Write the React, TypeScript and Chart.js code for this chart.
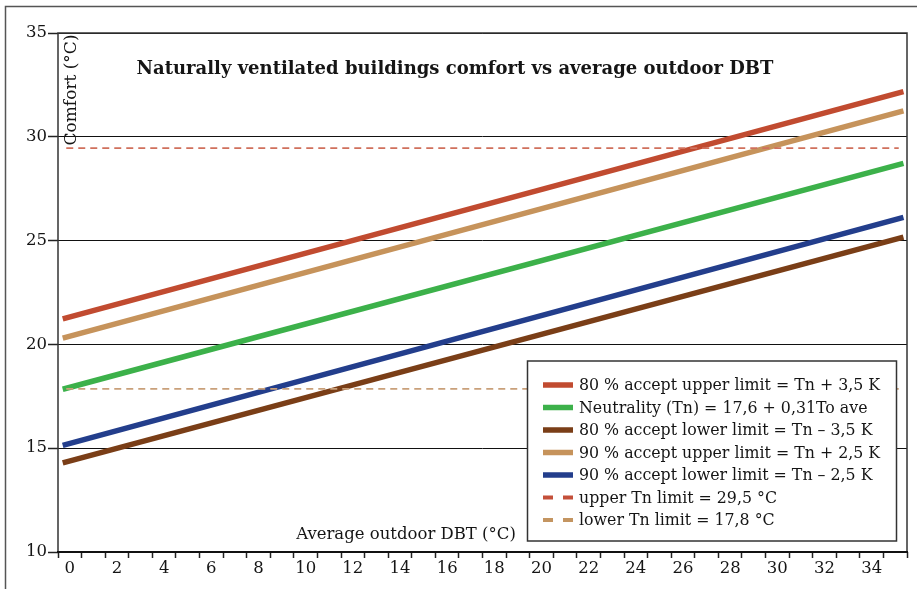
import React, { useEffect, useRef } from "react";
import { Chart, registerables } from "chart.js";

Chart.register(...registerables);

// ---- data ----
const lineX = [-0.3, 35.35];
const upper80 = [21.23, 32.18];
const neutrality = [17.84, 28.72];
const lower80 = [14.29, 25.17];
const upper90 = [20.3, 31.25];
const lower90 = [15.14, 26.12];
const dashX = [-0.15, 35.15];
const upperTn = [29.45, 29.45];
const lowerTn = [17.86, 17.86];

const xMin = -0.5;
const xMax = 35.5;
const yMin = 10;
const yMax = 35;
const yStep = 5;

const titleText = "Naturally ventilated buildings comfort vs average outdoor DBT";
const yTitle = "Comfort (°C)";
const xTitle = "Average outdoor DBT (°C)";

const legendItems = [
  { label: "80 % accept upper limit = Tn + 3,5 K", color: "#C14B30", dashed: false },
  { label: "Neutrality (Tn) = 17,6 + 0,31To ave", color: "#3CB14A", dashed: false },
  { label: "80 % accept lower limit = Tn – 3,5 K", color: "#7A3E17", dashed: false },
  { label: "90 % accept upper limit = Tn + 2,5 K", color: "#C6935B", dashed: false },
  { label: "90 % accept lower limit = Tn – 2,5 K", color: "#233E8C", dashed: false },
  { label: "upper Tn limit = 29,5 °C", color: "#C4503A", dashed: true },
  { label: "lower Tn limit = 17,8 °C", color: "#C49561", dashed: true },
];

const FONT = "'DejaVu Serif', serif";
const TEXT = "#151515";

const pts = (xs: number[], ys: number[]) => xs.map((x, i) => ({ x, y: ys[i] }));

const decorPlugin = {
  id: "decor",
  beforeDraw(chart: any) {
    const ctx = chart.ctx;
    ctx.save();
    ctx.fillStyle = "#fff";
    ctx.fillRect(0, 0, chart.width, chart.height);
    ctx.strokeStyle = "#555";
    ctx.lineWidth = 1.5;
    ctx.beginPath();
    ctx.moveTo(5.5, chart.height);
    ctx.lineTo(5.5, 6.5);
    ctx.lineTo(chart.width, 6.5);
    ctx.stroke();
    ctx.restore();
  },
  afterDraw(chart: any) {
    const ctx = chart.ctx;
    const ca = chart.chartArea;
    ctx.save();
    // plot border
    ctx.strokeStyle = "#333";
    ctx.lineWidth = 1.5;
    ctx.strokeRect(ca.left, ca.top, ca.right - ca.left, ca.bottom - ca.top);
    ctx.strokeStyle = "#111";
    ctx.lineWidth = 2;
    ctx.beginPath();
    ctx.moveTo(ca.left - 1, ca.bottom);
    ctx.lineTo(ca.right + 1, ca.bottom);
    ctx.stroke();

    // title
    ctx.fillStyle = TEXT;
    ctx.font = `bold 18px ${FONT}`;
    ctx.textAlign = "center";
    ctx.textBaseline = "middle";
    ctx.fillText(titleText, 455, 69);

    // y title
    ctx.font = `17px ${FONT}`;
    ctx.save();
    ctx.translate(ca.left + 13.5, 90);
    ctx.rotate(-Math.PI / 2);
    ctx.fillText(yTitle, 0, 0);
    ctx.restore();

    // x title
    ctx.font = `16.5px ${FONT}`;
    ctx.fillText(xTitle, 406, 535);

    // legend
    const lx = 527.5;
    const ly = 361;
    const lw = 369;
    const lh = 180;
    ctx.fillStyle = "#fff";
    ctx.fillRect(lx, ly, lw, lh);
    ctx.strokeStyle = "#333";
    ctx.lineWidth = 1.5;
    ctx.strokeRect(lx, ly, lw, lh);
    ctx.font = `15.8px ${FONT}`;
    ctx.textAlign = "left";
    ctx.textBaseline = "middle";
    legendItems.forEach((it, i) => {
      const cy = 385 + i * 22.5;
      ctx.fillStyle = it.color;
      if (it.dashed) {
        ctx.fillRect(543, cy - 2, 10, 4);
        ctx.fillRect(563, cy - 2, 10, 4);
      } else {
        ctx.fillRect(543, cy - 2.75, 30, 5.5);
      }
      ctx.fillStyle = TEXT;
      ctx.fillText(it.label, 579, cy + 1);
    });
    ctx.restore();
  },
};

export default function App() {
  const ref = useRef<HTMLCanvasElement | null>(null);

  useEffect(() => {
    if (!ref.current) return;
    const solid = (data: number[], color: string) => ({
      data: pts(lineX, data),
      borderColor: color,
      backgroundColor: color,
      borderWidth: 5.5,
      pointRadius: 0,
      borderCapStyle: "butt",
      fill: false,
    });
    const dashed = (data: number[], color: string) => ({
      data: pts(dashX, data),
      borderColor: color,
      backgroundColor: color,
      borderWidth: 1.8,
      borderDash: [7, 5],
      pointRadius: 0,
      fill: false,
    });
    const chart = new Chart(ref.current, {
      type: "line",
      data: {
        datasets: [
          dashed(upperTn, "#D0705C") as any,
          dashed(lowerTn, "#C9A07A") as any,
          solid(upper80, "#C14B30") as any,
          solid(neutrality, "#3CB14A") as any,
          solid(lower80, "#7A3E17") as any,
          solid(upper90, "#C6935B") as any,
          solid(lower90, "#233E8C") as any,
        ],
      },
      options: {
        animation: false,
        responsive: false,
        devicePixelRatio: 1,
        layout: { padding: { top: 33, right: 10, left: 0, bottom: 0 } },
        plugins: {
          legend: { display: false },
          tooltip: { enabled: false },
        },
        scales: {
          x: {
            type: "linear",
            min: xMin,
            max: xMax,
            afterBuildTicks: (scale: any) => {
              const t = [];
              for (let v = xMin; v <= xMax + 1e-9; v += 0.5) t.push({ value: v });
              scale.ticks = t;
            },
            afterFit: (scale: any) => {
              scale.height = 37;
            },
            border: { display: false },
            grid: {
              drawOnChartArea: false,
              drawTicks: true,
              tickLength: 6,
              tickWidth: 1.5,
              tickColor: (c: any) =>
                c.tick && !Number.isInteger(c.tick.value) ? "#222" : "rgba(0,0,0,0)",
            },
            ticks: {
              autoSkip: false,
              maxRotation: 0,
              padding: 1,
              color: TEXT,
              font: { family: FONT, size: 16.5 },
              callback: (v: any) => {
                const n = Number(v);
                return Number.isInteger(n) && n % 2 === 0 ? String(n) : "";
              },
            },
          },
          y: {
            min: yMin,
            max: yMax,
            afterFit: (scale: any) => {
              scale.width = 58;
            },
            border: { display: false },
            grid: {
              color: "#111",
              lineWidth: 1,
              tickLength: 10,
              tickColor: "#222",
              tickWidth: 1.5,
            },
            ticks: {
              stepSize: yStep,
              padding: 1,
              color: TEXT,
              font: { family: FONT, size: 16.5 },
            },
          },
        },
      },
      plugins: [decorPlugin],
    } as any);
    return () => chart.destroy();
  }, []);

  return (
    <div style={{ position: "fixed", left: 0, top: 0, width: 917, height: 589, background: "#fff" }}>
      <canvas ref={ref} width={917} height={589} style={{ display: "block" }} />
    </div>
  );
}
